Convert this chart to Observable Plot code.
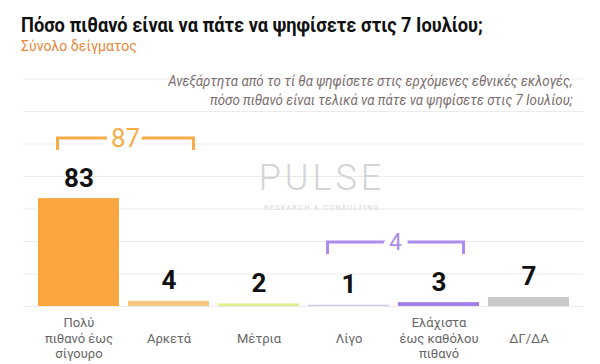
<!DOCTYPE html>
<html><head><meta charset="utf-8">
<script src="https://cdn.jsdelivr.net/npm/d3@7"></script>
<script src="https://cdn.jsdelivr.net/npm/@observablehq/plot@0.6"></script>
<style>
body{margin:0;background:#fff;}
#wrap{position:relative;width:600px;height:364px;overflow:hidden;font-family:"Roboto",sans-serif;}
#title{position:absolute;left:21px;top:13px;font-size:20px;font-weight:bold;color:#111;white-space:nowrap;line-height:24px;transform:scaleX(0.912);transform-origin:left center}
#subtitle{position:absolute;left:21px;top:37px;font-size:15px;color:#E8873C;line-height:18px;white-space:nowrap;transform:scaleX(0.94);transform-origin:left center}
#note{position:absolute;right:27px;top:72px;text-align:right;font-style:italic;font-size:14px;color:#7a6c6c;line-height:19px;white-space:nowrap;z-index:2;transform:scaleX(0.95);transform-origin:right center}
#chart{position:absolute;left:0;top:62px}
</style></head>
<body>
<div id="wrap">
  <div id="title">Πόσο πιθανό είναι να πάτε να ψηφίσετε στις 7 Ιουλίου;</div>
  <div id="subtitle">Σύνολο δείγματος</div>
  <div id="note">Ανεξάρτητα από το τί θα ψηφίσετε στις ερχόμενες εθνικές εκλογές,<br>πόσο πιθανό είναι τελικά να πάτε να ψηφίσετε στις 7 Ιουλίου;</div>
  <div id="chart"></div>
</div>
<script>
const categories = ["Πολύ\nπιθανό έως\nσίγουρο", "Αρκετά", "Μέτρια", "Λίγο", "Ελάχιστα\nέως καθόλου\nπιθανό", "ΔΓ/ΔΑ"];
const values = [83, 4, 2, 1, 3, 7];
const barColors = ["#F9A73E", "#F6C77E", "#E2EE8E", "#D3CAF0", "#A47FEA", "#C9C9C9"];
const groupLabels = ["87", "4"];
const groupFirst = [0, 3];
const groupLast = [1, 4];
const groupColors = ["#F6AC48", "#AC8CEE"];
const gridTicks = [0, 25, 50, 75, 100, 125, 150, 175];

const rows = categories.map((c, i) => ({cat: c, value: values[i]}));

function brackets(index, scales) {
  const x = scales.x, y = scales.y;
  const bw = x.bandwidth();
  const g = d3.create("svg:g");
  groupLabels.forEach((lab, k) => {
    const a = categories[groupFirst[k]], b = categories[groupLast[k]];
    const top = d3.max(values.slice(groupFirst[k], groupLast[k] + 1));
    const x1 = x(a) + bw / 2 - 21, x2 = x(b) + bw / 2 + 25;
    const y0 = y(top) - 60;
    g.append("path")
      .attr("d", `M${x1},${y0 + 12}V${y0}H${x2}V${y0 + 12}`)
      .attr("fill", "none").attr("stroke", groupColors[k]).attr("stroke-width", 3);
    g.append("text")
      .attr("x", (x1 + x2) / 2).attr("y", y0)
      .attr("text-anchor", "middle").attr("dy", "0.36em")
      .attr("font-family", "Roboto, sans-serif")
      .attr("font-size", k === 0 ? 26 : 23)
      .attr("fill", groupColors[k])
      .attr("stroke", "white").attr("stroke-width", 12).attr("paint-order", "stroke")
      .text(lab);
  });
  return g.node();
}

const chart = Plot.plot({
  width: 600, height: 302,
  marginLeft: 27, marginRight: 20, marginTop: 10, marginBottom: 58,
  x: {domain: categories, padding: 0.1, axis: null},
  y: {domain: [0, 180], axis: null},
  color: {domain: categories, range: barColors},
  style: {background: "transparent", overflow: "visible"},
  marks: [
    Plot.ruleY(gridTicks, {stroke: "#ebebeb", strokeWidth: 1, insetLeft: -4, insetRight: -3}),
    Plot.text(["PULSE"], {frameAnchor: "middle", dx: 18, dy: -11, fontSize: 36, fontFamily: "Roboto", fontWeight: 300, fill: "#d4d4d4", lineAnchor: "middle"}),
    Plot.text(["RESEARCH & CONSULTING"], {frameAnchor: "middle", dx: 18, dy: 18, fontSize: 7, fontFamily: "Roboto", fill: "#d6d6d6", lineAnchor: "middle"}),
    Plot.barY(rows, {x: "cat", y: "value", fill: "cat"}),
    Plot.text(rows, {x: "cat", y: "value", text: d => String(d.value), dy: -12, lineAnchor: "bottom",
      fontSize: 26, fontWeight: "bold", fontFamily: "Roboto, sans-serif", fill: "#111"}),
    Plot.text(rows, {x: "cat", text: "cat", frameAnchor: "bottom", lineAnchor: "middle", dy: 31,
      lineHeight: 1.2, fontSize: 13, fontFamily: "Roboto", fill: "#666"}),
    brackets
  ]
});
d3.select(chart).selectAll("text").filter(function() { return this.textContent === "PULSE"; }).style("letter-spacing", "4px");
d3.select(chart).selectAll("text").filter(function() { return this.textContent === "RESEARCH & CONSULTING"; }).style("letter-spacing", "1.5px");
document.getElementById("chart").appendChild(chart);
</script>
</body></html>
